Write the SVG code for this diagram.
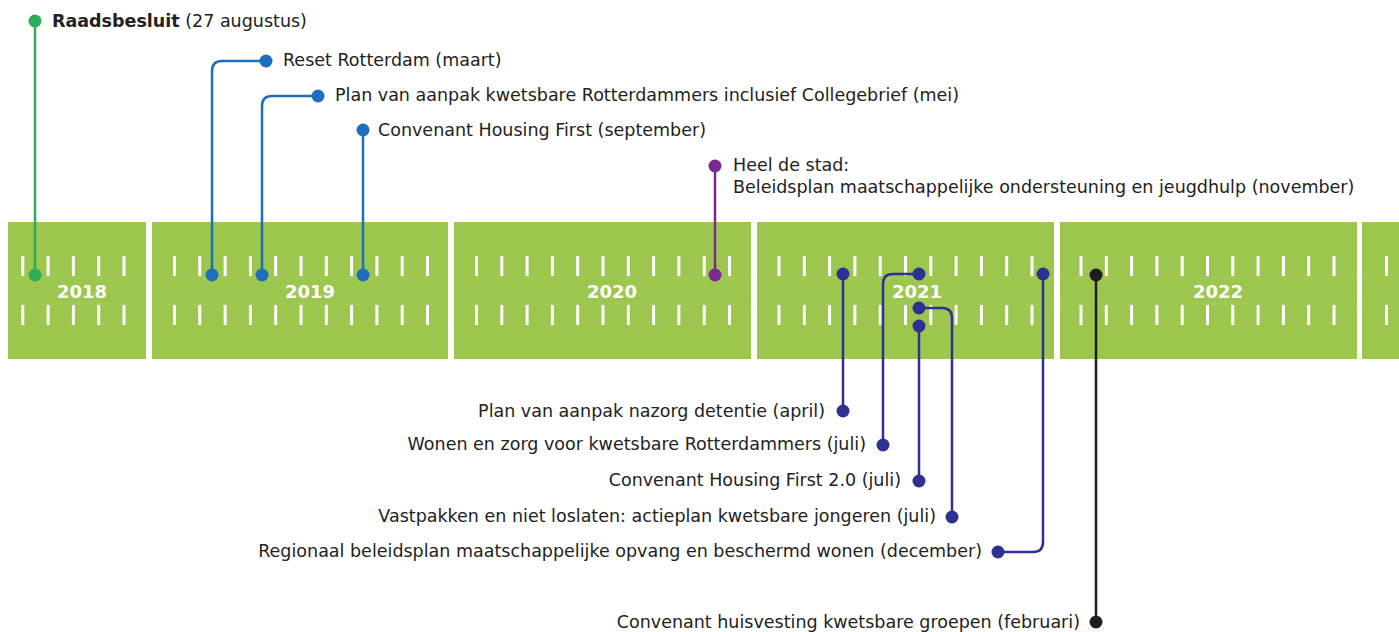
<svg xmlns="http://www.w3.org/2000/svg" width="1399" height="632" viewBox="0 0 1399 632">
<style>
.bar{fill:#9cc64e}
.sep{stroke:#a7cd5f;stroke-width:1}
.tick{stroke:#ffffff;stroke-width:3}
.yr{font-family:"DejaVu Sans",Verdana,sans-serif;font-weight:bold;font-size:18px;fill:#ffffff;text-anchor:middle}
.lbl{font-family:"DejaVu Sans",Verdana,sans-serif;font-size:17.5px;fill:#222222}
.end{text-anchor:end}
.c{fill:none;stroke-width:2.5}
.green{stroke:#2fac5a}.greenf{fill:#2fac5a}
.blue{stroke:#1d6fbd}.bluef{fill:#1d6fbd}
.purple{stroke:#7b2a8e}.purplef{fill:#7b2a8e}
.navy{stroke:#2e3192}.navyf{fill:#2e3192}
.black{stroke:#1e1e1e}.blackf{fill:#1e1e1e}
</style>
<defs>
<g id="ticks11">
<line class="tick" x1="0" y1="256" x2="0" y2="276"/><line class="tick" x1="25.3" y1="256" x2="25.3" y2="276"/><line class="tick" x1="50.6" y1="256" x2="50.6" y2="276"/><line class="tick" x1="75.9" y1="256" x2="75.9" y2="276"/><line class="tick" x1="101.2" y1="256" x2="101.2" y2="276"/><line class="tick" x1="126.5" y1="256" x2="126.5" y2="276"/><line class="tick" x1="151.8" y1="256" x2="151.8" y2="276"/><line class="tick" x1="177.1" y1="256" x2="177.1" y2="276"/><line class="tick" x1="202.4" y1="256" x2="202.4" y2="276"/><line class="tick" x1="227.7" y1="256" x2="227.7" y2="276"/><line class="tick" x1="253" y1="256" x2="253" y2="276"/>
<line class="tick" x1="0" y1="305" x2="0" y2="325"/><line class="tick" x1="25.3" y1="305" x2="25.3" y2="325"/><line class="tick" x1="50.6" y1="305" x2="50.6" y2="325"/><line class="tick" x1="75.9" y1="305" x2="75.9" y2="325"/><line class="tick" x1="101.2" y1="305" x2="101.2" y2="325"/><line class="tick" x1="126.5" y1="305" x2="126.5" y2="325"/><line class="tick" x1="151.8" y1="305" x2="151.8" y2="325"/><line class="tick" x1="177.1" y1="305" x2="177.1" y2="325"/><line class="tick" x1="202.4" y1="305" x2="202.4" y2="325"/><line class="tick" x1="227.7" y1="305" x2="227.7" y2="325"/><line class="tick" x1="253" y1="305" x2="253" y2="325"/>
</g>
</defs>
<rect width="1399" height="632" fill="#ffffff"/>

<g id="timeline">
<g id="y2018">
<rect class="bar" x="8" y="222" width="138" height="137"/>
<line class="sep" x1="8" y1="278" x2="146" y2="278"/><line class="sep" x1="8" y1="304" x2="146" y2="304"/>
<line class="tick" x1="22.8" y1="256" x2="22.8" y2="276"/><line class="tick" x1="48.1" y1="256" x2="48.1" y2="276"/><line class="tick" x1="73.4" y1="256" x2="73.4" y2="276"/><line class="tick" x1="98.7" y1="256" x2="98.7" y2="276"/><line class="tick" x1="124" y1="256" x2="124" y2="276"/>
<line class="tick" x1="22.8" y1="305" x2="22.8" y2="325"/><line class="tick" x1="48.1" y1="305" x2="48.1" y2="325"/><line class="tick" x1="73.4" y1="305" x2="73.4" y2="325"/><line class="tick" x1="98.7" y1="305" x2="98.7" y2="325"/><line class="tick" x1="124" y1="305" x2="124" y2="325"/>
<text class="yr" x="82" y="298">2018</text>
</g>
<g id="y2019">
<rect class="bar" x="152" y="222" width="296" height="137"/>
<line class="sep" x1="152" y1="278" x2="448" y2="278"/><line class="sep" x1="152" y1="304" x2="448" y2="304"/>
<use href="#ticks11" x="174.5"/>
<text class="yr" x="310" y="298">2019</text>
</g>
<g id="y2020">
<rect class="bar" x="454" y="222" width="297" height="137"/>
<line class="sep" x1="454" y1="278" x2="751" y2="278"/><line class="sep" x1="454" y1="304" x2="751" y2="304"/>
<use href="#ticks11" x="476.5"/>
<text class="yr" x="612" y="298">2020</text>
</g>
<g id="y2021">
<rect class="bar" x="757" y="222" width="297" height="137"/>
<line class="sep" x1="757" y1="278" x2="1054" y2="278"/><line class="sep" x1="757" y1="304" x2="1054" y2="304"/>
<use href="#ticks11" x="779"/>
<text class="yr" x="917" y="298">2021</text>
</g>
<g id="y2022">
<rect class="bar" x="1060" y="222" width="297" height="137"/>
<line class="sep" x1="1060" y1="278" x2="1357" y2="278"/><line class="sep" x1="1060" y1="304" x2="1357" y2="304"/>
<use href="#ticks11" x="1081"/>
<text class="yr" x="1218" y="298">2022</text>
</g>
<g id="y2023">
<rect class="bar" x="1362" y="222" width="37" height="137"/>
<line class="sep" x1="1362" y1="278" x2="1399" y2="278"/><line class="sep" x1="1362" y1="304" x2="1399" y2="304"/>
<line class="tick" x1="1386.5" y1="256" x2="1386.5" y2="276"/><line class="tick" x1="1386.5" y1="305" x2="1386.5" y2="325"/>
</g>
</g>

<g id="connectors">
<path class="c green" d="M35 21 V275"/>
<path class="c blue" d="M266 61 H222 Q212 61 212 71 V275"/>
<path class="c blue" d="M318 96 H272 Q262 96 262 106 V275"/>
<path class="c blue" d="M363 130 V275"/>
<path class="c purple" d="M715 166 V275"/>
<path class="c navy" d="M843 274 V411"/>
<path class="c navy" d="M919 274 H893 Q883 274 883 284 V445"/>
<path class="c navy" d="M919 308 H942 Q952 308 952 318 V517"/>
<path class="c navy" d="M919 326 V481"/>
<path class="c navy" d="M1043 274 V542 Q1043 552 1033 552 H998"/>
<path class="c black" d="M1096 275 V622"/>
</g>

<g id="n-raadsbesluit"><circle class="greenf" cx="35" cy="21" r="6.5"/><circle class="greenf" cx="35" cy="275" r="6.5"/>
<text class="lbl" x="52" y="27"><tspan font-weight="bold">Raadsbesluit</tspan> (27 augustus)</text></g>
<g id="n-reset"><circle class="bluef" cx="266" cy="61" r="6.5"/><circle class="bluef" cx="212" cy="275" r="6.5"/>
<text class="lbl" x="283" y="66">Reset Rotterdam (maart)</text></g>
<g id="n-planvanaanpak"><circle class="bluef" cx="318" cy="96" r="6.5"/><circle class="bluef" cx="262" cy="275" r="6.5"/>
<text class="lbl" x="335" y="101">Plan van aanpak kwetsbare Rotterdammers inclusief Collegebrief (mei)</text></g>
<g id="n-housingfirst"><circle class="bluef" cx="363" cy="130" r="6.5"/><circle class="bluef" cx="363" cy="275" r="6.5"/>
<text class="lbl" x="378" y="136">Convenant Housing First (september)</text></g>
<g id="n-heeldestad"><circle class="purplef" cx="715" cy="166" r="6.5"/><circle class="purplef" cx="715" cy="275" r="6.5"/>
<text class="lbl" x="733" y="171">Heel de stad:</text>
<text class="lbl" x="733" y="193">Beleidsplan maatschappelijke ondersteuning en jeugdhulp (november)</text></g>
<g id="n-nazorg"><circle class="navyf" cx="843" cy="274" r="6.5"/><circle class="navyf" cx="843" cy="411" r="6.5"/>
<text class="lbl end" x="825" y="417">Plan van aanpak nazorg detentie (april)</text></g>
<g id="n-wonenzorg"><circle class="navyf" cx="919" cy="274" r="6.5"/><circle class="navyf" cx="883" cy="445" r="6.5"/>
<text class="lbl end" x="866" y="450">Wonen en zorg voor kwetsbare Rotterdammers (juli)</text></g>
<g id="n-hf2"><circle class="navyf" cx="919" cy="326" r="6.5"/><circle class="navyf" cx="919" cy="481" r="6.5"/>
<text class="lbl end" x="901" y="486">Convenant Housing First 2.0 (juli)</text></g>
<g id="n-vastpakken"><circle class="navyf" cx="919" cy="308" r="6.5"/><circle class="navyf" cx="952" cy="517" r="6.5"/>
<text class="lbl end" x="936" y="522">Vastpakken en niet loslaten: actieplan kwetsbare jongeren (juli)</text></g>
<g id="n-regionaal"><circle class="navyf" cx="1043" cy="274" r="6.5"/><circle class="navyf" cx="998" cy="552" r="6.5"/>
<text class="lbl end" x="982" y="557">Regionaal beleidsplan maatschappelijke opvang en beschermd wonen (december)</text></g>
<g id="n-huisvesting"><circle class="blackf" cx="1096" cy="275" r="6.5"/><circle class="blackf" cx="1096" cy="622" r="6.5"/>
<text class="lbl end" x="1080" y="628">Convenant huisvesting kwetsbare groepen (februari)</text></g>
</svg>
